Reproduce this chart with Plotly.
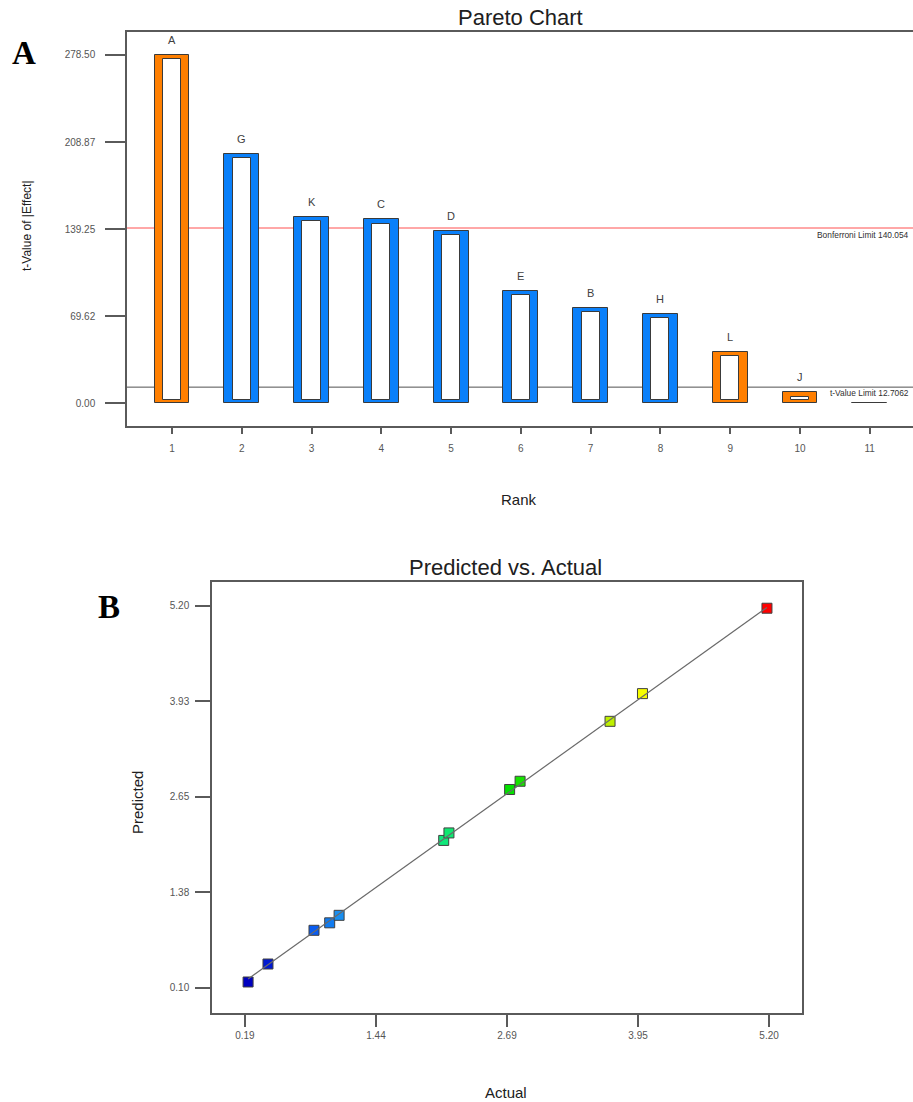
import plotly.graph_objects as go

# ---------------- Data: Pareto chart (panel A) ----------------
ranks = [1, 2, 3, 4, 5, 6, 7, 8, 9, 10, 11]
effect_labels = ["A", "G", "K", "C", "D", "E", "B", "H", "L", "J", ""]
t_values = [278.50, 199.5, 149.0, 147.0, 137.6, 89.6, 76.0, 71.2, 41.1, 8.6, 0.4]
effect_sign = ["pos", "neg", "neg", "neg", "neg", "neg", "neg", "neg", "pos", "pos", "neg"]
pareto_yticks = [0.0, 69.625, 139.25, 208.875, 278.50]
pareto_yticktext = ["0.00", "69.62", "139.25", "208.87", "278.50"]
bonferroni_limit = 140.054
t_value_limit = 12.7062

# ---------------- Data: Predicted vs Actual (panel B) ----------------
actual = [0.22, 0.41, 0.85, 1.00, 1.09, 2.09, 2.14, 2.72, 2.82, 3.68, 3.99, 5.18]
predicted = [0.18, 0.42, 0.87, 0.97, 1.07, 2.07, 2.17, 2.75, 2.86, 3.66, 4.03, 5.17]
pva_xticks = [0.19, 1.4425, 2.695, 3.9475, 5.20]
pva_xticktext = ["0.19", "1.44", "2.69", "3.95", "5.20"]
pva_yticks = [0.10, 1.375, 2.65, 3.925, 5.20]
pva_yticktext = ["0.10", "1.38", "2.65", "3.93", "5.20"]

# ---------------- Styling ----------------
W, H = 913, 1102
ORANGE = "#FF7F00"
BLUE = "#0A80FA"
EDGE = "#3a3a3a"
AXIS = "#5a5a5a"
TICKFONT = dict(family="Liberation Sans, Arial, sans-serif", size=10, color="#555555")
px_per_unit_a = 348 / 278.5  # pixels per t-value unit in panel A
top_inset = 4.4 / px_per_unit_a
bottom_inset = 3.5 / px_per_unit_a

def px_x(p):
    return p / W

def px_y(p):
    return 1 - p / H

bar_colors = [ORANGE if s == "pos" else BLUE for s in effect_sign]
inner_base = [bottom_inset for v in t_values]
inner_len = [(v - top_inset - bottom_inset) if v > top_inset + bottom_inset + 0.5 else None for v in t_values]

fig = go.Figure()

# Outer bars (coloured frame)
fig.add_trace(go.Bar(
    x=ranks, y=t_values, width=0.5,
    marker=dict(color=bar_colors, line=dict(color=EDGE, width=1)),
    xaxis="x", yaxis="y", showlegend=False, hoverinfo="skip",
))
# Inner white window
fig.add_trace(go.Bar(
    x=ranks, y=inner_len, base=inner_base, width=0.26,
    marker=dict(color="white", line=dict(color=EDGE, width=1)),
    xaxis="x", yaxis="y", showlegend=False, hoverinfo="skip",
))

# Predicted vs actual points
fig.add_trace(go.Scatter(
    x=actual, y=predicted, mode="markers",
    marker=dict(
        symbol="square", size=10,
        color=actual, cmin=min(actual), cmax=max(actual),
        colorscale=[[0.0, "#0000C0"], [0.1, "#0040F0"], [0.2, "#20A8F0"],
                    [0.38, "#10E878"], [0.5, "#00E000"], [0.7, "#C0F000"],
                    [0.77, "#FFFF00"], [1.0, "#FF0000"]],
        line=dict(color="#404040", width=1),
    ),
    xaxis="x2", yaxis="y2", showlegend=False, hoverinfo="skip",
))
# 1:1 line
fig.add_trace(go.Scatter(
    x=[min(actual), max(actual)], y=[min(actual), max(actual)], mode="lines",
    line=dict(color="#6a6a6a", width=1.2),
    xaxis="x2", yaxis="y2", showlegend=False, hoverinfo="skip",
))

shapes = [
    dict(type="line", xref="x domain", yref="y", x0=0, x1=1, y0=bonferroni_limit, y1=bonferroni_limit,
         line=dict(color="#FF5050", width=1), layer="below"),
    dict(type="line", xref="x domain", yref="y", x0=0, x1=1, y0=t_value_limit, y1=t_value_limit,
         line=dict(color="#505050", width=1), layer="below"),
]

annotations = []
for r, v, lab in zip(ranks, t_values, effect_labels):
    if lab:
        annotations.append(dict(x=r, y=v, xref="x", yref="y", text=lab, showarrow=False,
                                yshift=15, font=dict(family="Liberation Sans, Arial", size=11, color="#404040")))

annotations += [
    dict(x=px_x(520), y=px_y(18), xref="paper", yref="paper", text="Pareto Chart", showarrow=False,
         xanchor="center", yanchor="middle", font=dict(family="Liberation Sans, Arial", size=22, color="#202020")),
    dict(x=px_x(519), y=px_y(500), xref="paper", yref="paper", text="Rank", showarrow=False,
         xanchor="center", yanchor="middle", font=dict(family="Liberation Sans, Arial", size=15, color="#202020")),
    dict(x=px_x(27), y=px_y(226), xref="paper", yref="paper", text="t-Value of |Effect|", showarrow=False,
         textangle=-90, xanchor="center", yanchor="middle",
         font=dict(family="Liberation Sans, Arial", size=12, color="#202020")),
    dict(x=px_x(815), y=bonferroni_limit, xref="paper", yref="y", text="Bonferroni Limit 140.054", showarrow=False,
         xanchor="left", yanchor="middle", yshift=-7,
         font=dict(family="Liberation Sans, Arial", size=8.4, color="#303030")),
    dict(x=px_x(828), y=t_value_limit, xref="paper", yref="y", text="t-Value Limit 12.7062", showarrow=False,
         xanchor="left", yanchor="middle", yshift=-6,
         font=dict(family="Liberation Sans, Arial", size=8.4, color="#303030")),
    dict(x=px_x(24), y=px_y(53), xref="paper", yref="paper", text="<b>A</b>", showarrow=False,
         xanchor="center", yanchor="middle", font=dict(family="Liberation Serif, Times New Roman, serif", size=33, color="black")),
    dict(x=px_x(109), y=px_y(607), xref="paper", yref="paper", text="<b>B</b>", showarrow=False,
         xanchor="center", yanchor="middle", font=dict(family="Liberation Serif, Times New Roman, serif", size=33, color="black")),
    dict(x=px_x(505), y=px_y(567), xref="paper", yref="paper", text="Predicted vs. Actual", showarrow=False,
         xanchor="center", yanchor="middle", font=dict(family="Liberation Sans, Arial", size=22, color="#202020")),
    dict(x=px_x(506), y=px_y(1092), xref="paper", yref="paper", text="Actual", showarrow=False,
         xanchor="center", yanchor="middle", font=dict(family="Liberation Sans, Arial", size=15, color="#202020")),
    dict(x=px_x(137), y=px_y(803), xref="paper", yref="paper", text="Predicted", showarrow=False,
         textangle=-90, xanchor="center", yanchor="middle",
         font=dict(family="Liberation Sans, Arial", size=15, color="#202020")),
]

axis_common = dict(showline=True, linecolor=AXIS, linewidth=1.5, ticks="outside", tickcolor=AXIS,
                   tickwidth=1.5, showgrid=False, zeroline=False, tickfont=TICKFONT, fixedrange=True)

fig.update_layout(
    width=W, height=H, margin=dict(l=0, r=0, t=0, b=0),
    paper_bgcolor="white", plot_bgcolor="white",
    barmode="overlay", bargap=0,
    xaxis=dict(domain=[127 / W, 1.0], range=[0.355, 11.62], tickvals=ranks, ticklen=6, mirror=True,
               anchor="y", ticklabelstandoff=6, **axis_common),
    yaxis=dict(domain=[px_y(426), px_y(32)], range=[-18.4, 296.9], tickvals=pareto_yticks,
               ticktext=pareto_yticktext, ticklen=20, anchor="x", ticklabelstandoff=8, **axis_common),
    xaxis2=dict(domain=[212 / W, 802 / W], range=[-0.125, 5.515], tickvals=pva_xticks, ticktext=pva_xticktext,
                ticklen=12, mirror=True, anchor="y2", **axis_common),
    yaxis2=dict(domain=[px_y(1013), px_y(582)], range=[-0.234, 5.52], tickvals=pva_yticks, ticktext=pva_yticktext,
                ticklen=15, mirror=True, anchor="x2", ticklabelstandoff=4, **axis_common),
    shapes=shapes,
    annotations=annotations,
)

fig.write_html("out.html")
